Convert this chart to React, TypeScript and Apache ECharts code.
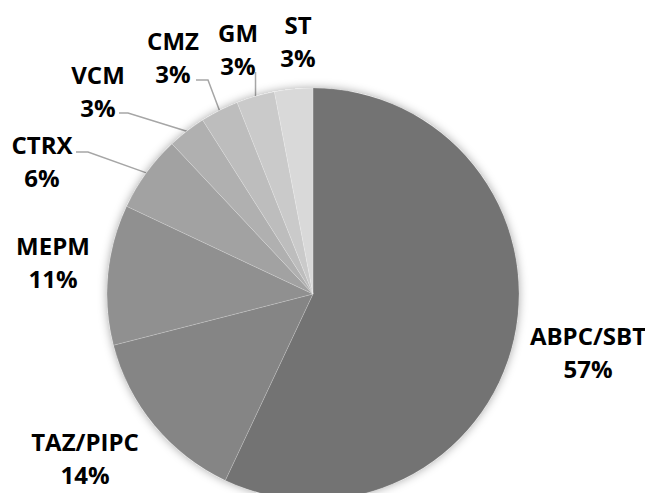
import React, { useEffect, useRef } from "react";
import * as echarts from "echarts";

const categories = ["ABPC/SBT", "TAZ/PIPC", "MEPM", "CTRX", "VCM", "CMZ", "GM", "ST"];
const values = [57, 14, 11, 6, 3, 3, 3, 3];
const sliceColors = ["#737373", "#858585", "#909090", "#a2a2a2", "#b0b0b0", "#bdbdbd", "#cacaca", "#d9d9d9"];
const showLeader = [false, false, false, true, true, true, true, false];
// label block centres (layout only)
const labelPos: [number, number][] = [
  [588, 352], [85, 458], [53, 262], [42, 161], [98, 91], [173, 57], [238, 49], [298, 41],
];
// leader line bend and end points (layout only); null = no leader
const leaderBend: ([number, number, number, number] | null)[] = [
  null, null, null,
  [88, 152, 76, 152],
  [128, 113, 119, 113],
  [208, 80, 196, 80],
  [-1, 80, -1, 72],
  null,
];

export default function App() {
  const ref = useRef<HTMLDivElement>(null);
  useEffect(() => {
    if (!ref.current) return;
    const chart = echarts.init(ref.current, undefined, { renderer: "svg" });
    const center = [313, 294];
    const radius = 206;
    chart.setOption({
      animation: false,
      backgroundColor: "#ffffff",
      series: [
        {
          type: "pie",
          silent: true,
          center,
          radius,
          startAngle: 90,
          label: { show: false },
          labelLine: { show: false },
          itemStyle: { color: "#ffffff", shadowBlur: 10, shadowColor: "rgba(0,0,0,0.35)" },
          data: [{ value: 1, name: "" }],
        },
        {
          type: "pie",
          center,
          radius,
          startAngle: 90,
          clockwise: true,
          avoidLabelOverlap: false,
          itemStyle: { borderColor: "rgba(255,255,255,0.25)", borderWidth: 0.7 },
          label: {
            show: true,
            position: "outside",
            formatter: (p: any) => `${p.name}\n${p.value}%`,
            fontFamily: "Open Sans",
            fontWeight: "bold",
            fontSize: 24,
            lineHeight: 33,
            color: "#000000",
            align: "center",
          },
          labelLine: {
            show: true,
            length: 10,
            length2: 12,
            smooth: false,
            lineStyle: { color: "#a6a6a6", width: 1.5 },
          },
          labelLayout: (params: any) => {
            const i = params.dataIndex;
            const pos = labelPos[i];
            const out: any = { x: pos[0], y: pos[1], align: "center", verticalAlign: "middle", hideOverlap: false };
            const b = leaderBend[i];
            if (b && params.labelLinePoints) {
              const p0 = params.labelLinePoints[0];
              const bx = b[0] < 0 ? p0[0] : b[0];
              const ex = b[2] < 0 ? p0[0] : b[2];
              out.labelLinePoints = [[p0[0], p0[1]], [bx, b[1]], [ex, b[3]]];
            }
            return out;
          },
          data: categories.map((name, i) => ({
            name,
            value: values[i],
            itemStyle: { color: sliceColors[i] },
            labelLine: { show: showLeader[i] },
          })),
        },
      ],
    });
    return () => chart.dispose();
  }, []);
  return (
    <div
      ref={ref}
      style={{ position: "absolute", left: 0, top: 0, width: 645, height: 493 }}
    />
  );
}
